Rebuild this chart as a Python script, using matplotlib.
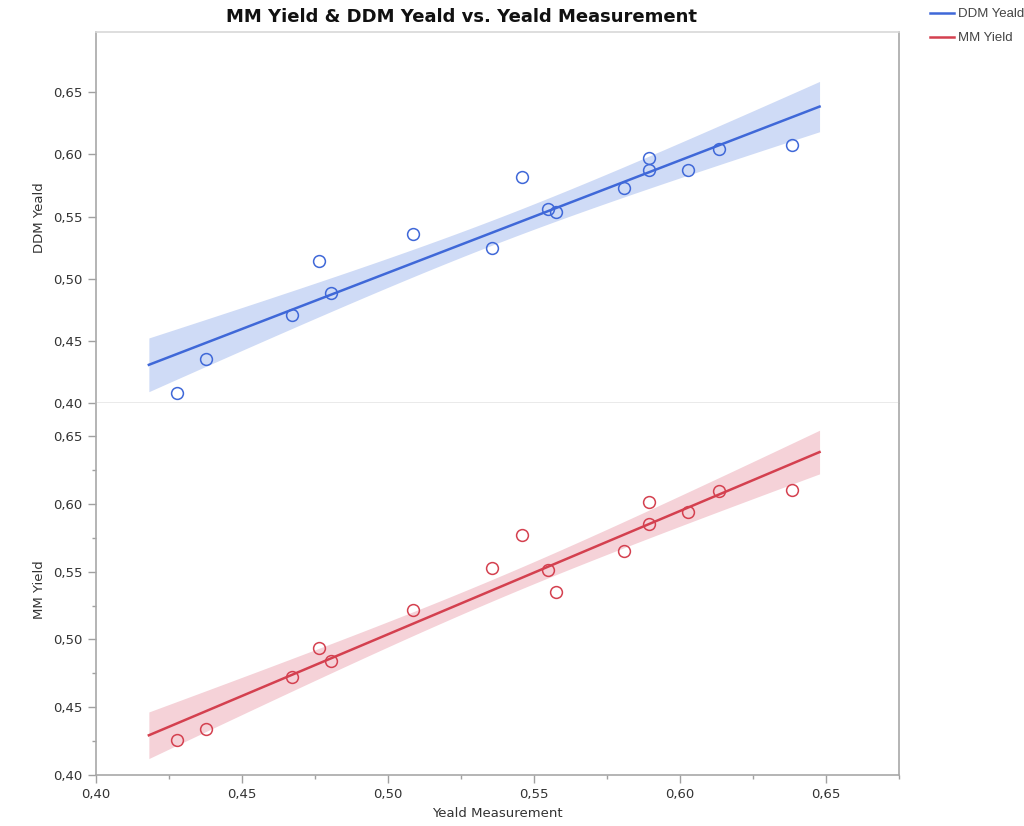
import numpy as np
import matplotlib
matplotlib.use("Agg")
import matplotlib.pyplot as plt
from matplotlib.ticker import MultipleLocator, FuncFormatter

# ---- data ----
yeald_measurement = [0.4277, 0.4378, 0.4672, 0.4764, 0.4806, 0.5086, 0.5356, 0.5458,
                     0.5550, 0.5576, 0.5807, 0.5894, 0.5894, 0.6029, 0.6134, 0.6383]
ddm_yeald = [0.4080, 0.4356, 0.4709, 0.5142, 0.4888, 0.5356, 0.5245, 0.5819,
             0.5557, 0.5535, 0.5726, 0.5971, 0.5878, 0.5878, 0.6039, 0.6071]
mm_yield = [0.4258, 0.4341, 0.4720, 0.4939, 0.4838, 0.5217, 0.5524, 0.5771,
            0.5512, 0.5350, 0.5650, 0.6016, 0.5851, 0.5940, 0.6097, 0.6102]

title = "MM Yield & DDM Yeald vs. Yeald Measurement"
series_names = ["DDM Yeald", "MM Yield"]
y_labels = ["DDM Yeald", "MM Yield"]
x_label = "Yeald Measurement"

line_colors = ["#3f68d8", "#d4404f"]
band_colors = ["#cfdbf6", "#f5d2d8"]

plt.rcParams['font.family'] = ['DejaVu Sans']

fig = plt.figure(figsize=(10.24, 8.26), dpi=100)
W, H = 1024, 826
left, right = 95.7 / W, 899.3 / W
ax1 = fig.add_axes([left, 1 - 403.3 / H, right - left, (403.3 - 31.7) / H])
ax2 = fig.add_axes([left, 1 - 775 / H, right - left, (775 - 403.3) / H], sharex=ax1)

x = np.array(yeald_measurement)
t_val = 2.145  # t(0.975, df=14)
ext = 0.0095

fmt = FuncFormatter(lambda v, p: f"{v:.2f}".replace(".", ","))

handles = []
for ax, yv, lc, bc, lab, name, ylim in [
        (ax1, ddm_yeald, line_colors[0], band_colors[0], y_labels[0], series_names[0], (0.40, 0.6985)),
        (ax2, mm_yield, line_colors[1], band_colors[1], y_labels[1], series_names[1], (0.40, 0.6743))]:
    y = np.array(yv)
    n = len(x)
    b, a = np.polyfit(x, y, 1)
    resid = y - (a + b * x)
    s = np.sqrt(np.sum(resid ** 2) / (n - 2))
    xbar = x.mean()
    sxx = np.sum((x - xbar) ** 2)
    xs = np.linspace(x.min() - ext, x.max() + ext, 200)
    ys = a + b * xs
    se = s * np.sqrt(1 / n + (xs - xbar) ** 2 / sxx)
    ax.fill_between(xs, ys - t_val * se, ys + t_val * se, color=bc, lw=0, zorder=1)
    h, = ax.plot(xs, ys, color=lc, lw=1.8, zorder=2, label=name)
    handles.append(h)
    ax.plot(x, y, 'o', mfc='none', mec=lc, mew=1.1, ms=8.5, zorder=3)
    ax.set_ylim(*ylim)
    ax.set_xlim(0.40, 0.6751)
    ax.yaxis.set_major_locator(MultipleLocator(0.05))
    ax.yaxis.set_major_formatter(fmt)
    ax.set_ylabel(lab, fontsize=9.5, color="#333333", labelpad=5)
    ax.tick_params(axis='both', which='both', colors="#a0a0a0", labelcolor="#333333",
                   labelsize=9.5, length=6, width=1)
    ax.tick_params(axis='both', which='minor', length=3)
    for sp in ['left', 'right', 'bottom']:
        ax.spines[sp].set_color("#a8a8a8")
        ax.spines[sp].set_linewidth(1.2)
    ax.spines['top'].set_color("#d8d8d8")
    ax.spines['top'].set_linewidth(1.2)

ax1.spines['bottom'].set_color("#e6e6e6")
ax1.spines['bottom'].set_linewidth(1.2)
ax2.spines['top'].set_visible(False)
ax1.tick_params(axis='x', which='both', bottom=False, labelbottom=False)
ax2.yaxis.set_minor_locator(MultipleLocator(0.025))
ax2.xaxis.set_major_locator(MultipleLocator(0.05))
ax2.xaxis.set_minor_locator(MultipleLocator(0.025))
ax2.xaxis.set_major_formatter(fmt)
ax2.set_xlabel(x_label, fontsize=9.5, color="#333333", labelpad=4)

fig.text(462 / W, 1 - 17 / H, title, ha='center', va='center', fontsize=13,
         fontweight='bold', color="#111111")

fig.legend(handles, series_names, loc='upper left', bbox_to_anchor=(922 / W, 1.0),
           frameon=False, handlelength=1.8, handletextpad=0.3,
           labelspacing=0.9, borderaxespad=0.2, labelcolor="#444444",
           prop={'family': 'Liberation Sans', 'size': 9.5})

fig.savefig("out.png", dpi=100)
